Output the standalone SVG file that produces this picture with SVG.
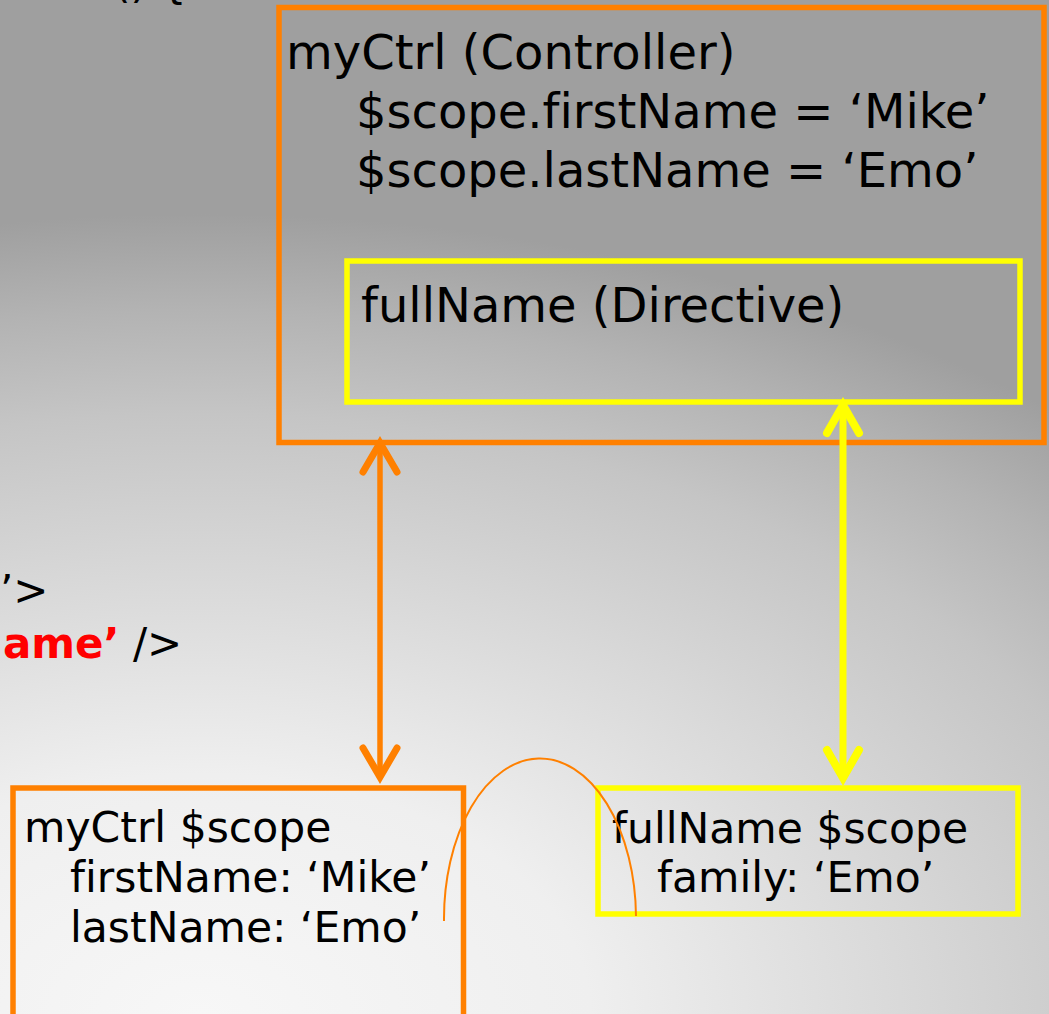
<svg xmlns="http://www.w3.org/2000/svg" width="1049" height="1014" viewBox="0 0 1049 1014">
<style>
text { font-family: "DejaVu Sans", Verdana, sans-serif; fill: #000; font-variant-ligatures: none; }
.big { font-size: 48px; }
.med { font-size: 42.5px; }
.code { font-size: 42px; }
.red { fill: #ff0000; font-weight: bold; }
.ob { fill: none; stroke: #ff8000; stroke-width: 5.5; }
.yb { fill: none; stroke: #ffff00; stroke-width: 5.5; }
.oline { fill: none; stroke: #ff8000; stroke-width: 5.5; }
.yline { fill: none; stroke: #ffff00; stroke-width: 7; }
.arc { fill: none; stroke: #ff8000; stroke-width: 2; }
</style>
<defs>
<radialGradient id="bg" gradientUnits="userSpaceOnUse" cx="200" cy="1014" r="1000" gradientTransform="translate(200 1014) scale(1.3 0.8) translate(-200 -1014)">
<stop offset="0" stop-color="#f7f7f7"/>
<stop offset="0.3" stop-color="#efefef"/>
<stop offset="0.55" stop-color="#d8d8d8"/>
<stop offset="0.75" stop-color="#c5c5c5"/>
<stop offset="0.88" stop-color="#b3b3b3"/>
<stop offset="1" stop-color="#9f9f9f"/>
</radialGradient>
<marker id="headO" markerUnits="userSpaceOnUse" viewBox="-40 -25 50 50" markerWidth="50" markerHeight="50" refX="0" refY="0" orient="auto-start-reverse" overflow="visible">
<path d="M -29 -17 L 0 0 L -29 17" fill="none" stroke="#ff8000" stroke-width="7" stroke-linecap="round" stroke-linejoin="miter"/>
</marker>
<marker id="headY" markerUnits="userSpaceOnUse" viewBox="-40 -25 50 50" markerWidth="50" markerHeight="50" refX="0" refY="0" orient="auto-start-reverse" overflow="visible">
<path d="M -28 -16 L 0 0 L -28 16" fill="none" stroke="#ffff00" stroke-width="8" stroke-linecap="round" stroke-linejoin="miter"/>
</marker>
</defs>
<rect x="0" y="0" width="1049" height="1014" fill="url(#bg)"/>

<g id="code-fragments">
<text class="code" x="114" y="-2">() {</text>
<text class="code" x="0" y="605">’&gt;</text>
<text class="code" x="3" y="658"><tspan class="red">ame’</tspan> /&gt;</text>
</g>

<g id="controller">
<rect class="ob" x="279" y="7.5" width="765" height="435"/>
<text class="big" x="286" y="69">myCtrl (Controller)</text>
<text class="big" x="356" y="128">$scope.firstName = ‘Mike’</text>
<text class="big" x="356" y="187">$scope.lastName = ‘Emo’</text>
</g>

<g id="directive">
<rect class="yb" x="347" y="261" width="673" height="141"/>
<text class="big" x="361" y="322">fullName (Directive)</text>
</g>

<g id="ctrl-scope">
<rect class="ob" x="13" y="788" width="450.5" height="300" stroke-width="5"/>
<text class="med" x="24" y="842">myCtrl $scope</text>
<text class="med" x="70" y="892">firstName: ‘Mike’</text>
<text class="med" x="70" y="942">lastName: ‘Emo’</text>
</g>

<g id="directive-scope">
<rect class="yb" x="598" y="788" width="420" height="126" stroke-width="5"/>
<text class="med" x="612" y="843">fullName $scope</text>
<text class="med" x="657" y="892">family: ‘Emo’</text>
</g>

<g id="connectors">
<line class="oline" x1="380" y1="443" x2="380" y2="777" marker-start="url(#headO)" marker-end="url(#headO)"/>
<line class="yline" x1="843" y1="405" x2="843" y2="778" marker-start="url(#headY)" marker-end="url(#headY)"/>
<path class="arc" d="M 444 921 A 96 160 0 0 1 636 916"/>
</g>
</svg>
